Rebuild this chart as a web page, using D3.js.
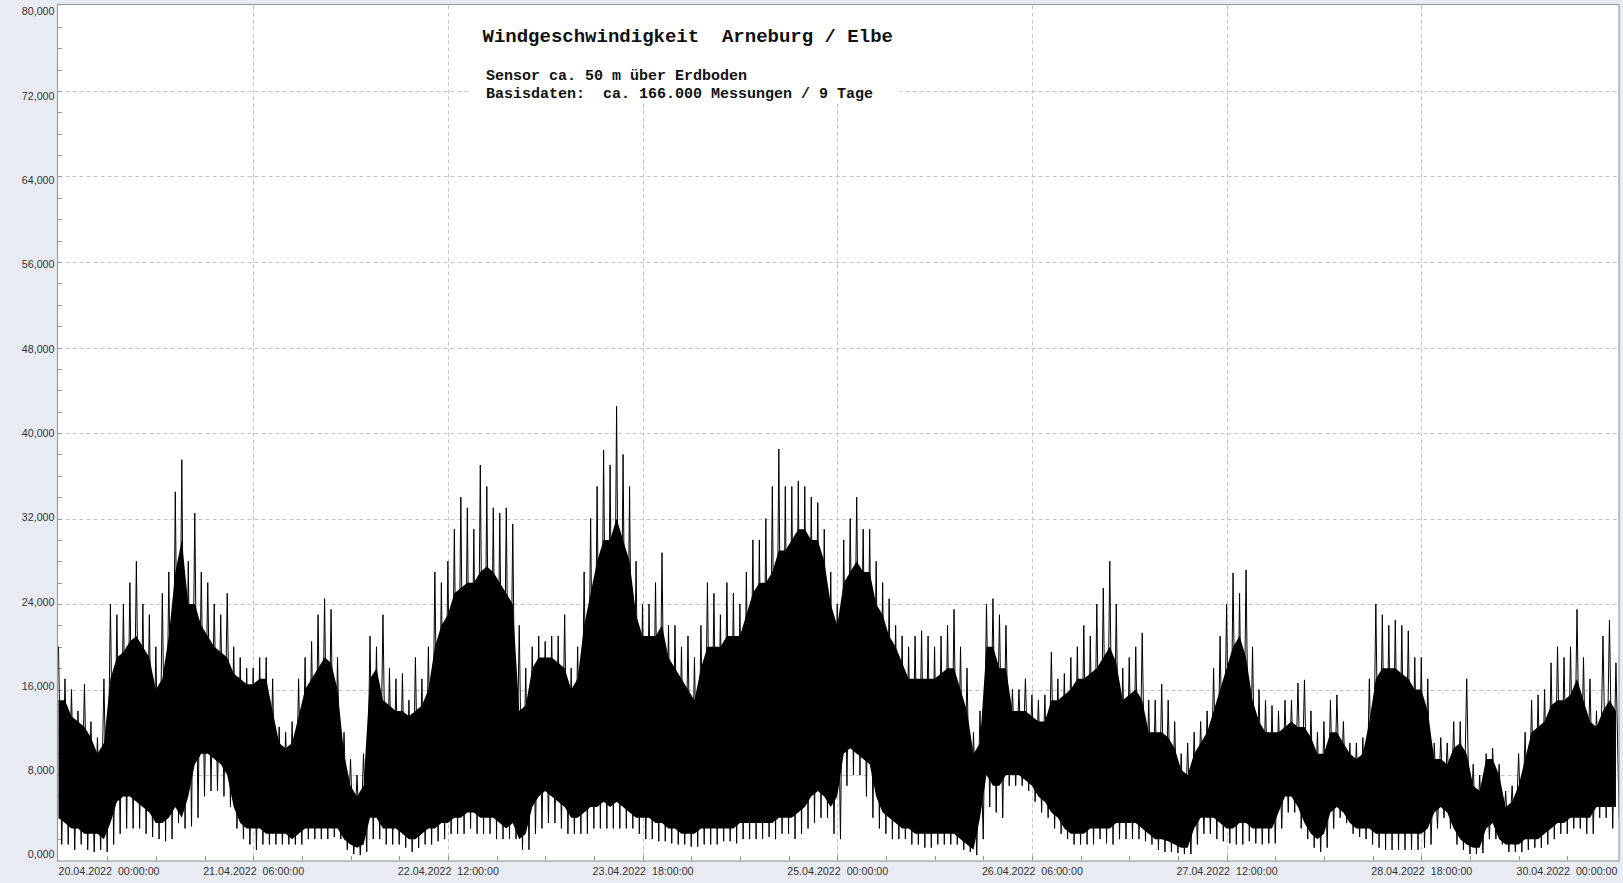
<!DOCTYPE html>
<html><head><meta charset="utf-8">
<script src="https://cdn.jsdelivr.net/npm/d3@7"></script>
<style>html,body{margin:0;padding:0;background:#e8ebf2;overflow:hidden}svg{display:block}</style>
</head><body><svg id="c" width="1623" height="883"></svg>
<script>
// ---- texts ----
const titleText = "Windgeschwindigkeit  Arneburg / Elbe";
const subLines = ["Sensor ca. 50 m über Erdboden", "Basisdaten:  ca. 166.000 Messungen / 9 Tage"];
// ---- x ticks (hours since 20.04.2022 00:00) ----
const xTickHours = [0, 30, 60, 90, 120, 150, 180, 210, 240];
const xTickLabels = ["20.04.2022  00:00:00", "21.04.2022  06:00:00", "22.04.2022  12:00:00", "23.04.2022  18:00:00",
  "25.04.2022  00:00:00", "26.04.2022  06:00:00", "27.04.2022  12:00:00", "28.04.2022  18:00:00", "30.04.2022  00:00:00"];
// ---- y ticks ----
const yTicks = [0, 8, 16, 24, 32, 40, 48, 56, 64, 72, 80];
// ---- hourly data (hour 0 .. 240) ----
const hourlyMax = [
  20,17,16,14,16.5,13,11.5,17,24,23,
  24,26,28,24,23,20,25,27,34.5,37.5,
  28,32.5,27,26,24,23,25,20,19,18,
  18,19,19,17,12.5,12,13,17,19,20.5,
  23,24.5,23.5,19,12,9.5,8,10,21,20,
  23,18,17,17.5,15,19,17,20,27,26,
  28,31,34,33,31,37,35,33,32.5,33,
  31.5,22,18,20,21,20.5,21,21,23,18,
  20,27,32,35,38.4,37,42.5,38,35,28,
  24,24,26,28.8,22,22,20,21,19,22,
  26,25,23,26,25,24,27,30,30,32,
  35,38.5,35,35,35.5,35,34,33.5,31,27,
  24,30,32,34,31,31,28,26,24.5,22,
  21,20,21,21.5,21,20,21,22,23.5,20,
  18,12,14,24,24.5,23,22,16,16,17,
  15.5,15,15.5,19.5,17,17.5,19,20,22,21,
  24,25.5,28,24,18,19,20,21.3,15,15,
  16.5,15,13,10,11,12,13,14,18,21,
  24,26.9,25,27.2,20,16,15,14.5,14,15,
  15,16.6,16.9,14,12,13,15,15.5,13,11,
  11,11.5,17,24,23,22,22.5,22,21.5,19,
  19,17,11,11.5,11,13,13,17,9,8,
  10,10.5,9,6.5,7,10,12,15,15.5,16,
  18.5,20,19,20,23.5,19,17,14,21,22.5,18.5];
const coreTop = [
  15,15,13.5,13,12.5,11.5,10,11,17,19,
  19.5,20.5,21,20,19,16,17,21,27,30,
  24,24,22,21,20,19.5,19,17.5,17,16.5,
  16.5,17,17,14,11,10.5,11,13.5,16,17,
  18,19,18.5,16,10,7,6,7,17,18,
  15,14.5,14,14,13.5,14,14.5,16,20,22,
  23,25,25.5,26,26,27,27.5,27,26,25,
  24,14,14.5,18,19,19,19,18.5,18,16,
  17,22,25,28,30,30,32,30,28,23,
  21,21,21,22,19,18,17,16,15,18,
  20,20,20,21,21,21,23,25,26,26,
  27,29,29,30,31,31,30,30,28,24,
  22,26,27,28,27,27,24,23,21,20,
  18.5,17,17,17,17,17,17.5,18,18,16,
  14,10,11,20,20,18,18,14,14,14,
  13.5,13,13,15,15,15.5,16,17,17,17.5,
  18,19,20,18.5,15,15.5,16,15,12,12,
  12,11.5,10.5,8.5,8,10,11,12,14,16,
  18,20,21,19,15,13,12,12,12,12.5,
  13,12.5,12.5,11.5,10,10,12,12,11,10,
  9.5,10,13,17,18,18,18,17.5,17,16,
  16,14,9.5,9.5,9,10.5,11,10,7,6.5,
  9.5,9.5,8,5,5.5,7,9.5,12,12.5,13,
  14.5,15,15,15.5,17,15,13,12.5,14,15,14];
const coreBottom = [
  4,3.5,3,3,2.5,2.5,2.5,2,3.5,5.5,
  6,6,5.5,5,4.5,3.5,3.5,4,5,4,
  6,9,10,10,9.5,9,8,5,3.5,3,
  3,3,2.5,2.5,2.5,2.5,2,2.5,3,3,
  3,3,3,3,2,1.5,1.2,1.5,4,4,
  3,3,3,2.5,2,2,2.5,3,3,3.5,
  3.5,4,4,4.5,4.5,4,4,4,3.5,3,
  3.5,2,2.5,5,6,6.5,6,5.5,5,4,
  4,4.5,5,5,5.5,5,5.5,5,4.5,4,
  4,4,3.5,3.5,3,3,2.5,2.5,2.5,3,
  3,3,3,3,3,3.5,3.5,3.5,3.5,3.5,
  3.5,4,4,4,4.5,5,6,6.5,6,5,
  6,10,10.5,10,9.5,9,6,4.5,4,3.5,
  3,3,2.5,2.5,2.5,2.5,2.5,2.5,2.5,2,
  1.5,1,4,8,7,7,8,8,8,7.5,
  7,6,5.5,4.5,4,3,2.5,2.5,2.5,3,
  3,3,3,3.5,3.5,3.5,3.5,3,2.5,2,
  2,1.8,1.5,1.2,1.2,3,4,4,4,3.5,
  3,3,3.5,3.5,3,3,3,3,4.5,6,
  6,5,3.5,2.5,2,2.5,4.5,5,4.5,3.5,
  3,3,3,2.5,2.5,2.5,2.5,2.5,2.5,2.5,
  2.5,3,4.5,5,4.5,3,2,1.5,1.2,1.2,
  3,3.5,2,1.5,1.5,1.5,2,2,2,2.5,
  3,3.5,3.5,4,4,4,4,5,5,5,5];
const hourlyMin = [
  1.5,1.5,1,1.5,1,0.8,1,0.8,1.5,2.5,
  3,3,3,2.5,2.2,2,1.8,2,3.5,3,
  3.2,4,6,6.5,6.5,6,5,3,2,1.5,
  1,1.5,1.5,1.5,1.5,1.5,1.5,1.5,2,2,
  2,2,2.2,2,1,0.6,0.5,0.8,2,2,
  1.5,1.5,1.5,1.2,0.8,1.2,1.5,1.5,1.8,2,
  2.5,2.5,2.5,3,2.5,2.5,2.5,2,2,2,
  2,1,1,2.5,3,3.5,3.5,3,2.5,2.5,
  2.5,2.5,3,3,3,3,3,3,3,2.5,
  2,2,1.8,1.8,1.6,1.5,1.5,1.3,1.3,1.5,
  1.5,1.5,1.8,1.8,1.6,2,2,2,2,2.2,
  2,2.5,2.5,2,2.5,3,3.5,4,4,2.5,
  2,7,8,8,6,4,3,2.5,2,2,
  2,1.5,1.5,1.2,1.2,1.5,1.5,1.5,1.5,1,
  0.8,0.5,2,5,4.5,4,7,7,7,6.5,
  5.5,4.5,4,3,2.5,2,1.5,1.5,1.5,1.5,
  2,1.6,1.5,2,2,2,2,1.8,1.5,1,
  0.8,0.8,0.7,0.6,0.6,1.5,2.5,2.5,2,1.8,
  1.6,1.5,1.5,1.8,1.6,1.5,1.6,1.6,3,4.5,
  4.5,3,2,1.2,0.8,1.2,3,4,3.5,2.5,
  2.2,2,1.5,1.2,1,1,1,1,1,1,
  1.2,1.5,3,4,3,1.5,1,0.6,0.6,0.7,
  2,2,1.5,0.8,0.8,0.8,1,1.2,1.2,1.5,
  2,2.5,2.5,3,3,2.5,2.5,4,4,3,4];

// ---- drawing ----
const keepSpaces = s => s.replace(/  /g, "\u00a0 ");
const svg = d3.select("#c");
const W = 1623, H = 883;
const L = 58.5, R = 1619, T = 5.5, B = 860.5;
const x = d3.scaleLinear().domain([0, 240.47]).range([L, R]);
const y = d3.scaleLinear().domain([0, 80]).range([B, T]);
const yLab = d3.scaleLinear().domain([0, 80]).range([855, 12]);
const fmt = d3.formatLocale({decimal: ",", thousands: ".", grouping: [3], currency: ["", ""]}).format(".3f");

svg.append("rect").attr("width", W).attr("height", H).attr("fill", "#e8ebf2");
svg.append("rect").attr("x", 57.5).attr("y", 4.5).attr("width", R - 57.5).attr("height", 856.5).attr("fill", "#fff");

svg.append("defs").append("clipPath").attr("id", "clip")
  .append("rect").attr("x", 58).attr("y", 5).attr("width", R - 58).attr("height", 855.5);

// grid
const grid = svg.append("g").attr("stroke", "#c4c4c4").attr("stroke-dasharray", "4,3").attr("stroke-width", 1);
grid.selectAll("line.h").data(yTicks.filter(v => v > 0 && v < 80)).join("line")
  .attr("x1", L).attr("x2", R).attr("y1", d => Math.round(y(d)) + 0.5).attr("y2", d => Math.round(y(d)) + 0.5);
grid.selectAll("line.v").data(xTickHours.filter(h => h > 0 && h < 240)).join("line")
  .attr("y1", T).attr("y2", B).attr("x1", d => Math.round(x(d)) + 0.5).attr("x2", d => Math.round(x(d)) + 0.5);

// minor ticks
const minorY = d3.range(2, 80, 2);
svg.append("g").attr("stroke", "#9a9a9a").selectAll("line").data(minorY).join("line")
  .attr("x1", 58).attr("x2", 62).attr("y1", d => Math.round(y(d)) + 0.5).attr("y2", d => Math.round(y(d)) + 0.5);
const minorX = d3.range(7.5, 240, 7.5);
svg.append("g").attr("stroke", "#9a9a9a").selectAll("line").data(minorX).join("line")
  .attr("y1", 856).attr("y2", 860.5).attr("x1", d => Math.round(x(d)) + 0.5).attr("x2", d => Math.round(x(d)) + 0.5);

// title box
svg.append("rect").attr("x", 470).attr("y", 5).attr("width", 430).attr("height", 97).attr("fill", "#fff");
const tg = svg.append("g").attr("font-family", "'Liberation Mono','Courier New',monospace").attr("font-weight", "bold").attr("fill", "#111");
tg.append("text").attr("x", 482.5).attr("y", 41.7).attr("font-size", 19).text(keepSpaces(titleText));
tg.selectAll("text.s").data(subLines).join("text").attr("x", 486).attr("y", (d, i) => i ? 98.3 : 80).attr("font-size", 15).text(d => keepSpaces(d));

// data
const idx = d3.range(hourlyMax.length);
const dg = svg.append("g").attr("clip-path", "url(#clip)");
dg.append("path").datum(idx)
  .attr("d", d3.area().x(i => x(i)).y0(i => y(coreBottom[i])).y1(i => y(coreTop[i])))
  .attr("fill", "#000");
const spikes = [];
idx.forEach(i => { spikes.push([i, hourlyMax[i]]); spikes.push([i + 0.5, hourlyMin[i]]); });
dg.append("path").datum(spikes)
  .attr("d", d3.line().x(d => x(d[0])).y(d => y(d[1])))
  .attr("fill", "none").attr("stroke", "#000").attr("stroke-width", 1);

// border
svg.append("rect").attr("x", 57.5).attr("y", 4.5).attr("width", R - 57.5).attr("height", 856.5)
  .attr("fill", "none").attr("stroke", "#9c9c9c").attr("stroke-width", 1.2);

// y axis labels
const yAxis = d3.axisLeft(y).tickValues(yTicks).tickFormat(fmt).tickSize(0).tickPadding(0);
const ya = svg.append("g").attr("transform", "translate(54.5,0)").call(yAxis);
ya.select(".domain").remove();
ya.selectAll(".tick").attr("transform", d => `translate(0,${yLab(d)})`);
ya.selectAll("text").attr("font-family", "'Liberation Sans',Arial,sans-serif").attr("font-size", 10.7).attr("fill", "#333");

// x axis labels
const xAxis = d3.axisBottom(x).tickValues(xTickHours).tickFormat((d, i) => keepSpaces(xTickLabels[i])).tickSize(0).tickPadding(6);
const xa = svg.append("g").attr("transform", "translate(0,861)").call(xAxis);
xa.select(".domain").remove();
xa.selectAll("text").attr("font-family", "'Liberation Sans',Arial,sans-serif").attr("font-size", 10.7).attr("fill", "#333");
xa.selectAll(".tick").filter(d => d === 0).select("text").attr("text-anchor", "start").attr("x", -0.5);
xa.selectAll(".tick").filter(d => d === 240).select("text").attr("text-anchor", "end").attr("x", R - 2 - x(240));
</script></body></html>
